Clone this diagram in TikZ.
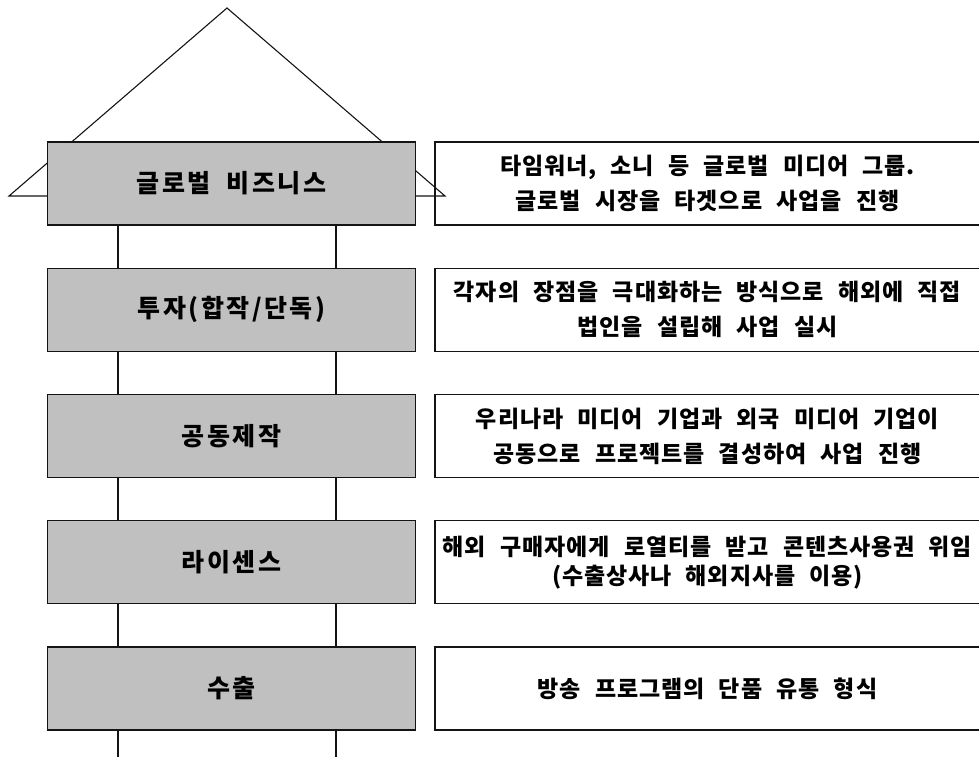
\documentclass[tikz,border=0pt]{standalone}
\usepackage{fontspec}
\newfontfamily\krw{Noto Sans CJK KR}[WordSpace=2.3,LetterSpace=4]
\newfontfamily\krg{Noto Sans CJK KR}[WordSpace=2,LetterSpace=10]
\definecolor{boxgray}{RGB}{192,192,192}
\definecolor{edge}{RGB}{20,20,20}
\tikzset{
  graybox/.style={draw=edge, line width=1.3pt, fill=boxgray, minimum width=368.4pt, minimum height=83pt, inner sep=0pt, font={\krg\bfseries\fontsize{25}{30}\selectfont}},
  whitebox/.style={draw=edge, line width=1.3pt, fill=white, minimum width=545pt, minimum height=83pt, inner sep=0pt, align=center, font={\krw\bfseries\fontsize{23}{35}\selectfont}},
  link/.style={draw=edge, line width=1.3pt},
  roof/.style={draw=edge, line width=1.1pt}
}
\begin{document}
\begin{tikzpicture}[x=1pt,y=-1pt]
\useasboundingbox (0,0) rectangle (979,756);
% description boxes
\node[whitebox] (w1) at (707.5,183.5) {타임워너, 소니 등 글로벌 미디어 그룹.\\글로벌 시장을 타겟으로 사업을 진행};
\node[whitebox] (w2) at (707.5,309.75) {각자의 장점을 극대화하는 방식으로 해외에 직접\\법인을 설립해 사업 실시};
\node[whitebox] (w3) at (707.5,436) {우리나라 미디어 기업과 외국 미디어 기업이\\공동으로 프로젝트를 결성하여 사업 진행};
\node[whitebox, font={\krw\bfseries\fontsize{23}{29}\selectfont}] (w4) at (707.5,562.25) {해외 구매자에게 로열티를 받고 콘텐츠사용권 위임\\(수출상사나 해외지사를 이용)};
\node[whitebox] (w5) at (707.5,688.5) {방송 프로그램의 단품 유통 형식};
% roof
\coordinate (rl) at (9,196);
\coordinate (rt) at (227,8);
\coordinate (rr) at (445,196);
\draw[roof] (rl) -- (rt) -- (rr) -- cycle;
% level boxes
\node[graybox] (g1) at (231.5,183.5) {글로벌 비즈니스};
\node[graybox] (g2) at (231.5,309.75) {투자(합작/단독)};
\node[graybox] (g3) at (231.5,436) {공동제작};
\node[graybox] (g4) at (231.5,562.25) {라이센스};
\node[graybox] (g5) at (231.5,688.5) {수출};
% pillars
\foreach \a/\b in {g1/g2,g2/g3,g3/g4,g4/g5}{
  \draw[link] ([xshift=-113.5pt]\a.south) -- ([xshift=-113.5pt]\b.north);
  \draw[link] ([xshift=104.5pt]\a.south) -- ([xshift=104.5pt]\b.north);
}
\coordinate (base) at (231.5,760);
\draw[link] ([xshift=-113.5pt]g5.south) -- ([xshift=-113.5pt]base);
\draw[link] ([xshift=104.5pt]g5.south) -- ([xshift=104.5pt]base);
\end{tikzpicture}
\end{document}
